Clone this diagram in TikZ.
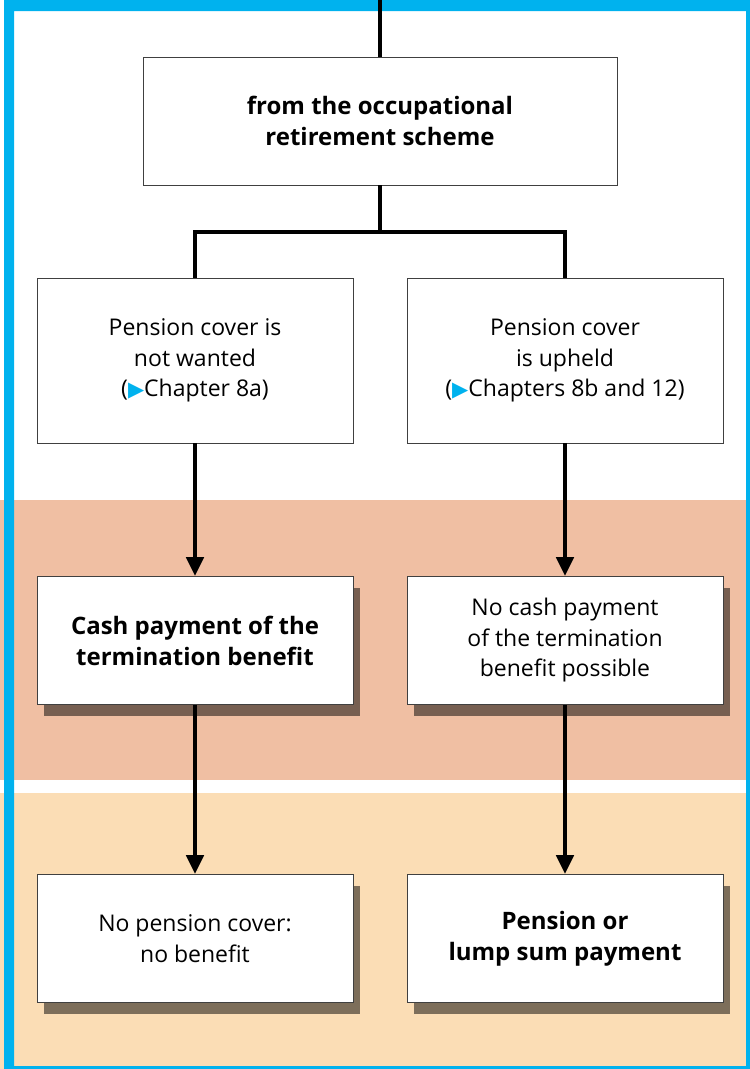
\documentclass[tikz,border=0pt]{standalone}
\usepackage{fontspec}
\setmainfont{Open Sans}
\newfontfamily\symfont{DejaVu Sans}
\usetikzlibrary{arrows.meta,shadows}
\definecolor{frameblue}{RGB}{0,178,238}
\definecolor{bandpink}{RGB}{240,191,163}
\definecolor{bandbeige}{RGB}{251,221,181}
\newcommand{\ptr}{{\symfont\fontsize{21}{21}\selectfont\textcolor{frameblue}{▶}}}
\begin{document}
\begin{tikzpicture}[x=1pt,y=-1pt,
  box/.style={draw=black!75, line width=0.8pt, fill=white, align=center, inner sep=0pt,
    font=\fontsize{23}{30.5}\selectfont},
  bold/.style={font=\fontsize{24}{31}\selectfont\bfseries},
  wbox/.style={box, minimum width=316pt},
  shbox/.style={wbox, minimum height=128pt,
    drop shadow={shadow xshift=7pt, shadow yshift=-11pt, fill=black, opacity=0.5}},
  conn/.style={line width=4.5pt, black},
  arr/.style={conn, -{Triangle[length=19pt,width=17pt]}}]
\useasboundingbox (0,0) rectangle (750,1069);
% bands
\fill[bandpink] (0,500) rectangle (750,780);
\fill[bandbeige] (0,793) rectangle (750,1069);
% frame
\fill[frameblue, even odd rule] (4,0) rectangle (750,1069) (14,11) rectangle (746,1066);
% nodes
\node[box, bold, minimum width=474pt, minimum height=128pt] (top) at (380,121) {from the occupational\\retirement scheme};
\node[wbox, minimum height=165pt] (L1) at (195,360.5) {Pension cover is\\not wanted\\(\ptr Chapter 8a)};
\node[wbox, minimum height=165pt] (R1) at (565,360.5) {Pension cover\\is upheld\\(\ptr Chapters 8b and 12)};
\node[shbox, bold] (L2) at (195,640.5) {Cash payment of the\\termination benefit};
\node[shbox] (R2) at (565,640.5) {No cash payment\\of the termination\\benefit possible};
\node[shbox] (L3) at (195,938.5) {No pension cover:\\no benefit};
\node[shbox, bold] (R3) at (565,938.5) {Pension or\\lump sum payment};
% connectors
\coordinate (entry) at (380,0);
\coordinate (fork) at (380,232);
\draw[conn] (entry) -- (top.north);
\draw[conn] (top.south) -- (fork);
\draw[conn] (L1.north) -- (L1.north |- fork) -- (R1.north |- fork) -- (R1.north);
\draw[arr] (L1.south) -- (L2.north);
\draw[arr] (R1.south) -- (R2.north);
\draw[arr] (L2.south) -- (L3.north);
\draw[arr] (R2.south) -- (R3.north);
\end{tikzpicture}
\end{document}
